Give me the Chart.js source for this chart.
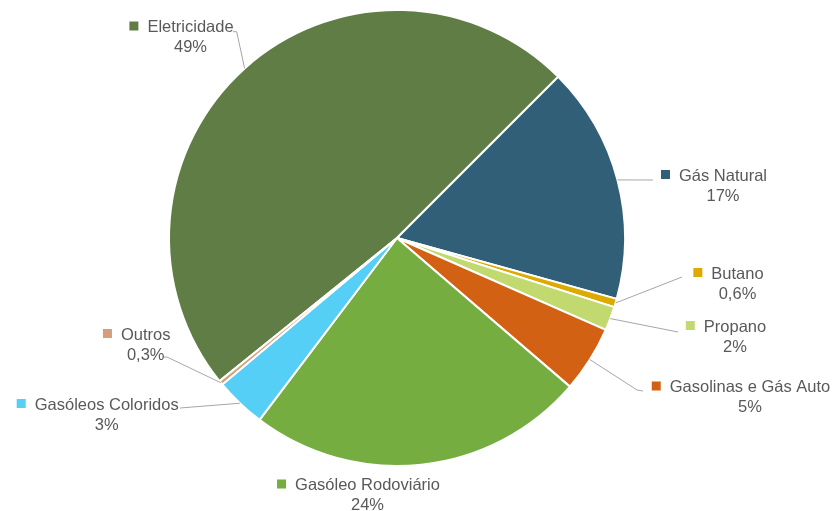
<!DOCTYPE html>
<html>
<head>
<meta charset="utf-8">
<script src="https://cdn.jsdelivr.net/npm/chart.js@4/dist/chart.umd.min.js"></script>
<style>
  body { margin: 0; background: #fff; }
  #wrap { width: 835px; height: 511px; position: relative; }
</style>
</head>
<body>
<div id="wrap"><canvas id="chart"></canvas></div>
<script>
// data (share of energy use, %)
let categories = ["Eletricidade", "Gás Natural", "Butano", "Propano", "Gasolinas e Gás Auto", "Gasóleo Rodoviário", "Gasóleos Coloridos", "Outros"];
let values = [48.3, 16.8, 0.6, 1.7, 4.7, 24.0, 3.6, 0.3];
let pctLabels = ["49%", "17%", "0,6%", "2%", "5%", "24%", "3%", "0,3%"];
let colors = ["#617D46", "#325F78", "#DDAA00", "#C1D96F", "#D26113", "#76AD41", "#55CFF5", "#D49E7A"];

// where each label sits, relative to the pie centre (text centre + leader line points)
let labelLayout = [
   { tx: -206.5, ty: -211.5, line: [[-160.3, -206.3], [-164, -206.3]] },
   { tx: 326, ty: -63, line: [[256, -58]] },
   { tx: 340.5, ty: 35, line: [[285, 39]] },
   { tx: 338, ty: 88, line: [[281, 94]] },
   { tx: 353, ty: 148.5, line: [[240, 152], [246, 153]] },
   { tx: -29.5, ty: 246.5, line: [] },
   { tx: -290.3, ty: 166, line: [[-217, 170]] },
   { tx: -251.3, ty: 96, line: [[-230, 119], [-234, 119]] }
];

let total = values.reduce((a, b) => a + b, 0);

let outsideLabels = {
   id: "outsideLabels",
   afterDatasetsDraw(chart) {
      let c = chart.ctx;
      let arcs = chart.getDatasetMeta(0).data;
      c.save();
      c.font = "16.5px 'Liberation Sans', Arial, sans-serif";
      arcs.forEach((arc, i) => {
         let p = arc.getProps(["x", "y", "startAngle", "endAngle", "outerRadius"], true);
         let mid = (p.startAngle + p.endAngle) / 2;
         let lay = labelLayout[i];
         // leader line
         if (lay.line.length) {
            c.strokeStyle = "#A6A6A6";
            c.lineWidth = 1;
            c.beginPath();
            c.moveTo(p.x + Math.cos(mid) * p.outerRadius, p.y + Math.sin(mid) * p.outerRadius);
            lay.line.forEach(pt => c.lineTo(p.x + pt[0], p.y + pt[1]));
            c.stroke();
         }
         // text
         let tx = p.x + lay.tx;
         let ty = p.y + lay.ty;
         let w = c.measureText(categories[i]).width;
         c.fillStyle = colors[i];
         c.fillRect(tx - w / 2 - 18, ty - 5, 9, 9);
         c.fillStyle = "#595959";
         c.textAlign = "center";
         c.textBaseline = "middle";
         c.fillText(categories[i], tx, ty + 1);
         c.fillText(pctLabels[i], tx, ty + 21);
      });
      c.restore();
   }
};

let ctx = document.getElementById("chart").getContext("2d");
let chart = new Chart(ctx, {
   type: "pie",
   data: {
      labels: categories,
      datasets: [
         {
            data: values,
            backgroundColor: colors,
            borderColor: "#FFFFFF",
            borderWidth: 2
         }
      ]
   },
   options: {
      responsive: true,
      maintainAspectRatio: false,
      animation: false,
      rotation: 45 - values[0] / total * 360,
      layout: { padding: { top: 9, bottom: 44, left: 0, right: 41 } },
      plugins: {
         legend: { display: false },
         tooltip: { enabled: false }
      }
   },
   plugins: [outsideLabels]
});
</script>
</body>
</html>
